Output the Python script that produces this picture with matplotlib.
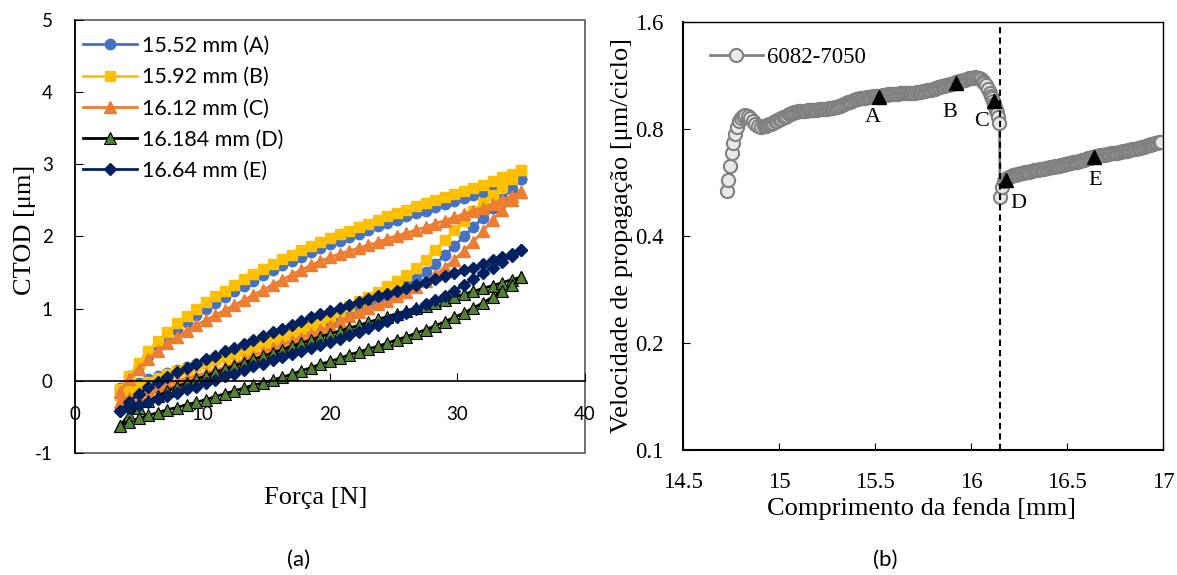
import matplotlib.pyplot as plt
from matplotlib.patches import Rectangle
from matplotlib.ticker import NullLocator

serif = 'Liberation Serif'
sans = 'Lato'
plt.rcParams['font.family'] = [serif, 'DejaVu Serif']
plt.rcParams['axes.unicode_minus'] = False

# (a) CTOD loops: force grid shared by all loops (up branch, then back down)
force = [3.5, 4.25, 5.0, 5.75, 6.5, 7.25, 8.0, 8.75, 9.5, 10.25, 11.0,
         11.75, 12.5, 13.25, 14.0, 14.75, 15.5, 16.25, 17.0, 17.75, 18.5, 19.25,
         20.0, 20.75, 21.5, 22.25, 23.0, 23.75, 24.5, 25.25, 26.0, 26.75, 27.5,
         28.25, 29.0, 29.75, 30.5, 31.25, 32.0, 32.75, 33.5, 34.25, 35.0]

ctod_up_A = [-0.10, 0.06, 0.21, 0.35, 0.48, 0.60, 0.71, 0.81, 0.91, 1.00, 1.08,
             1.16, 1.24, 1.32, 1.39, 1.46, 1.53, 1.60, 1.66, 1.72, 1.78, 1.84,
             1.89, 1.94, 1.99, 2.04, 2.09, 2.14, 2.19, 2.23, 2.28, 2.32, 2.36,
             2.41, 2.45, 2.49, 2.53, 2.57, 2.61, 2.65, 2.70, 2.75, 2.80]
ctod_low_A = [-0.15, -0.09, -0.03, 0.02, 0.07, 0.11, 0.15, 0.19, 0.23, 0.27, 0.31,
              0.35, 0.39, 0.43, 0.47, 0.51, 0.55, 0.59, 0.63, 0.67, 0.72, 0.77,
              0.82, 0.88, 0.94, 1.00, 1.06, 1.12, 1.18, 1.25, 1.32, 1.41, 1.51,
              1.62, 1.74, 1.87, 2.00, 2.13, 2.26, 2.39, 2.52, 2.66, 2.80]

ctod_up_B = [-0.12, 0.07, 0.25, 0.41, 0.55, 0.68, 0.80, 0.90, 1.00, 1.09, 1.17,
             1.25, 1.33, 1.41, 1.48, 1.55, 1.62, 1.69, 1.75, 1.81, 1.87, 1.93,
             1.98, 2.03, 2.08, 2.13, 2.18, 2.23, 2.28, 2.33, 2.37, 2.42, 2.46,
             2.51, 2.55, 2.59, 2.63, 2.67, 2.72, 2.77, 2.82, 2.87, 2.92]
ctod_low_B = [-0.20, -0.13, -0.07, -0.01, 0.04, 0.09, 0.13, 0.17, 0.21, 0.25, 0.29,
              0.33, 0.37, 0.41, 0.46, 0.51, 0.55, 0.59, 0.65, 0.70, 0.76, 0.82,
              0.89, 0.96, 1.03, 1.10, 1.16, 1.23, 1.31, 1.38, 1.46, 1.56, 1.68,
              1.81, 1.95, 2.09, 2.22, 2.35, 2.46, 2.57, 2.68, 2.79, 2.92]

ctod_up_C = [-0.15, 0.02, 0.17, 0.30, 0.42, 0.52, 0.61, 0.69, 0.77, 0.84, 0.91,
             0.98, 1.05, 1.12, 1.19, 1.26, 1.33, 1.40, 1.47, 1.54, 1.60, 1.66,
             1.71, 1.76, 1.80, 1.84, 1.88, 1.92, 1.97, 2.01, 2.05, 2.09, 2.13,
             2.18, 2.22, 2.27, 2.31, 2.36, 2.40, 2.45, 2.51, 2.56, 2.62]
ctod_low_C = [-0.30, -0.24, -0.18, -0.13, -0.08, -0.04, 0.00, 0.04, 0.07, 0.11, 0.15,
              0.19, 0.24, 0.29, 0.35, 0.40, 0.45, 0.50, 0.55, 0.60, 0.65, 0.70,
              0.76, 0.83, 0.90, 0.96, 1.01, 1.06, 1.11, 1.17, 1.23, 1.30, 1.38,
              1.47, 1.57, 1.68, 1.80, 1.93, 2.08, 2.23, 2.37, 2.50, 2.62]

ctod_up_D = [-0.62, -0.48, -0.37, -0.28, -0.21, -0.14, -0.08, -0.03, 0.02, 0.07, 0.12,
             0.16, 0.21, 0.25, 0.30, 0.34, 0.39, 0.43, 0.48, 0.52, 0.57, 0.61,
             0.65, 0.69, 0.73, 0.77, 0.81, 0.85, 0.89, 0.93, 0.97, 1.01, 1.04,
             1.08, 1.12, 1.16, 1.20, 1.24, 1.28, 1.32, 1.36, 1.40, 1.44]
ctod_low_D = [-0.62, -0.57, -0.52, -0.48, -0.44, -0.40, -0.37, -0.33, -0.30, -0.26, -0.22,
              -0.18, -0.14, -0.10, -0.06, -0.03, 0.01, 0.05, 0.09, 0.14, 0.18, 0.23,
              0.27, 0.31, 0.36, 0.40, 0.44, 0.48, 0.52, 0.57, 0.61, 0.66, 0.71,
              0.76, 0.82, 0.88, 0.94, 1.01, 1.08, 1.16, 1.24, 1.33, 1.44]

ctod_up_E = [-0.42, -0.29, -0.18, -0.09, -0.02, 0.05, 0.12, 0.18, 0.24, 0.30, 0.35,
             0.41, 0.46, 0.51, 0.57, 0.62, 0.67, 0.72, 0.78, 0.83, 0.88, 0.93,
             0.97, 1.01, 1.05, 1.09, 1.13, 1.17, 1.21, 1.25, 1.29, 1.33, 1.37,
             1.41, 1.45, 1.49, 1.53, 1.57, 1.62, 1.67, 1.71, 1.76, 1.81]
ctod_low_E = [-0.42, -0.38, -0.34, -0.30, -0.25, -0.21, -0.17, -0.12, -0.08, -0.03, 0.01,
              0.06, 0.10, 0.15, 0.20, 0.24, 0.29, 0.33, 0.37, 0.41, 0.45, 0.49,
              0.54, 0.58, 0.63, 0.68, 0.73, 0.78, 0.83, 0.89, 0.94, 1.00, 1.06,
              1.12, 1.18, 1.25, 1.33, 1.41, 1.49, 1.57, 1.65, 1.73, 1.81]

loop_labels = ['15.52 mm (A)', '15.92 mm (B)', '16.12 mm (C)', '16.184 mm (D)', '16.64 mm (E)']

# (b) crack growth rate vs crack length
crack = [14.727, 14.736, 14.745, 14.754, 14.762, 14.771, 14.780, 14.790, 14.800, 14.812,
         14.825, 14.838, 14.850, 14.862, 14.875, 14.890, 14.905,
         14.92, 14.93, 14.94, 14.95, 14.96, 14.97, 14.98, 14.99, 15.00, 15.01,
         15.02, 15.03, 15.04, 15.05, 15.06, 15.07, 15.08, 15.09, 15.10, 15.11,
         15.12, 15.13, 15.14, 15.15, 15.16, 15.17, 15.18, 15.19, 15.20, 15.21,
         15.22, 15.23, 15.24, 15.25, 15.26, 15.27, 15.28, 15.29, 15.30, 15.31,
         15.32, 15.33, 15.34, 15.35, 15.36, 15.37, 15.38, 15.39, 15.40, 15.41,
         15.42, 15.43, 15.44, 15.45, 15.46, 15.47, 15.48, 15.49, 15.50, 15.51,
         15.52, 15.53, 15.54, 15.55, 15.56, 15.57, 15.58, 15.59, 15.60, 15.61,
         15.62, 15.63, 15.64, 15.65, 15.66, 15.67, 15.68, 15.69, 15.70, 15.71,
         15.72, 15.73, 15.74, 15.75, 15.76, 15.77, 15.78, 15.79, 15.80, 15.81,
         15.82, 15.83, 15.84, 15.85, 15.86, 15.87, 15.88, 15.89, 15.90, 15.91,
         15.92, 15.93, 15.94, 15.95, 15.96, 15.97, 15.98, 15.99, 16.00, 16.01,
         16.02, 16.03, 16.04, 16.05, 16.06, 16.07, 16.08, 16.09, 16.10,
         16.105, 16.11, 16.115, 16.12, 16.125, 16.13, 16.135, 16.14, 16.148,
         16.152, 16.160, 16.170, 16.18, 16.19, 16.20,
         16.21, 16.22, 16.23, 16.24, 16.25, 16.26, 16.27, 16.28, 16.29, 16.30,
         16.31, 16.32, 16.33, 16.34, 16.35, 16.36, 16.37, 16.38, 16.39, 16.40,
         16.41, 16.42, 16.43, 16.44, 16.45, 16.46, 16.47, 16.48, 16.49, 16.50,
         16.51, 16.52, 16.53, 16.54, 16.55, 16.56, 16.57, 16.58, 16.59, 16.60,
         16.61, 16.62, 16.63, 16.64, 16.65, 16.66, 16.67, 16.68, 16.69, 16.70,
         16.71, 16.72, 16.73, 16.74, 16.75, 16.76, 16.77, 16.78, 16.79, 16.80,
         16.81, 16.82, 16.83, 16.84, 16.85, 16.86, 16.87, 16.88, 16.89, 16.90,
         16.91, 16.92, 16.93, 16.94, 16.95, 16.96, 16.97, 16.98, 16.99]
speed = [0.537, 0.575, 0.630, 0.683, 0.732, 0.773, 0.812, 0.840, 0.860, 0.872,
         0.876, 0.870, 0.858, 0.843, 0.829, 0.818, 0.812,
         0.814, 0.817, 0.820, 0.824, 0.829, 0.834, 0.840, 0.845, 0.851, 0.856,
         0.862, 0.867, 0.873, 0.879, 0.884, 0.888, 0.892, 0.895, 0.897, 0.898,
         0.899, 0.900, 0.901, 0.902, 0.903, 0.904, 0.905, 0.906, 0.907, 0.908,
         0.909, 0.910, 0.912, 0.913, 0.914, 0.915, 0.917, 0.920, 0.923, 0.927,
         0.931, 0.936, 0.941, 0.946, 0.951, 0.956, 0.961, 0.965, 0.969, 0.972,
         0.975, 0.977, 0.979, 0.981, 0.983, 0.985, 0.986, 0.988, 0.989, 0.990,
         0.992, 0.994, 0.996, 0.998, 1.000, 1.002, 1.003, 1.004, 1.005, 1.006,
         1.006, 1.007, 1.007, 1.008, 1.008, 1.009, 1.010, 1.011, 1.012, 1.013,
         1.015, 1.017, 1.019, 1.021, 1.024, 1.027, 1.030, 1.033, 1.036, 1.040,
         1.043, 1.047, 1.050, 1.054, 1.058, 1.062, 1.066, 1.070, 1.074, 1.078,
         1.082, 1.086, 1.090, 1.094, 1.098, 1.102, 1.106, 1.110, 1.113, 1.116,
         1.117, 1.116, 1.113, 1.105, 1.094, 1.080, 1.062, 1.038, 1.010,
         0.992, 0.975, 0.958, 0.940, 0.922, 0.905, 0.885, 0.865, 0.830,
         0.516, 0.548, 0.570, 0.578, 0.584, 0.588,
         0.590, 0.592, 0.594, 0.596, 0.598, 0.600, 0.602, 0.604, 0.606, 0.607,
         0.609, 0.610, 0.612, 0.613, 0.615, 0.616, 0.618, 0.619, 0.621, 0.622,
         0.624, 0.625, 0.627, 0.628, 0.630, 0.631, 0.633, 0.634, 0.636, 0.638,
         0.640, 0.642, 0.644, 0.646, 0.648, 0.650, 0.652, 0.654, 0.656, 0.658,
         0.661, 0.663, 0.666, 0.668, 0.670, 0.672, 0.674, 0.675, 0.677, 0.678,
         0.680, 0.681, 0.683, 0.684, 0.686, 0.687, 0.689, 0.690, 0.692, 0.693,
         0.695, 0.697, 0.699, 0.701, 0.703, 0.705, 0.707, 0.709, 0.712, 0.714,
         0.717, 0.719, 0.722, 0.724, 0.727, 0.729, 0.732, 0.734, 0.737]

pt_names = ['A', 'B', 'C', 'D', 'E']
pt_crack = [15.52, 15.92, 16.12, 16.184, 16.64]
pt_speed = [0.985, 1.075, 0.96, 0.575, 0.668]
cut_crack = 16.15

fig = plt.figure(figsize=(11.77, 5.75), dpi=100)

# ---- (a)
ax1 = fig.add_axes([0.0637, 0.2122, 0.4333, 0.7530])
ups = [ctod_up_A, ctod_up_B, ctod_up_C, ctod_up_D, ctod_up_E]
lows = [ctod_low_A, ctod_low_B, ctod_low_C, ctod_low_D, ctod_low_E]
styles = [dict(color='#4472C4', marker='o', mfc='#4472C4', mec='#4472C4', ms=7.5),
          dict(color='#FFC000', marker='s', mfc='#FFC000', mec='#FFC000', ms=7.0),
          dict(color='#ED7D31', marker='^', mfc='#ED7D31', mec='#ED7D31', ms=8.0),
          dict(color='black', marker='^', mfc='#548235', mec='black', ms=8.0, mew=0.8),
          dict(color='#002060', marker='D', mfc='#002060', mec='#002060', ms=6.5)]
for up, low, lab, st in zip(ups, lows, loop_labels, styles):
    ax1.plot(force + force[::-1], up + low[::-1], lw=2, label=lab, **st)

ax1.set_xlim(0, 40)
ax1.set_ylim(-1, 5)
ax1.spines['bottom'].set_position(('data', 0))
ax1.spines['top'].set_visible(False)
ax1.spines['right'].set_visible(False)
ax1.spines['left'].set_linewidth(1.2)
ax1.spines['bottom'].set_linewidth(1.2)
ax1.add_patch(Rectangle((0, 0), 1, 1, transform=ax1.transAxes, fill=False,
                        ec='#595959', lw=1.2, clip_on=False, zorder=0.5))
ax1.set_xticks([0, 10, 20, 30, 40])
ax1.set_yticks([-1, 0, 1, 2, 3, 4, 5])
ax1.tick_params(axis='x', direction='in', length=6, pad=18, labelsize=13.5,
                labelfontfamily=sans)
ax1.tick_params(axis='y', direction='in', length=6, pad=16, labelsize=13.5,
                labelfontfamily=sans)
ax1.set_xlabel('Força [N]', fontsize=19)
ax1.xaxis.set_label_coords(0.4716, -0.104)
ax1.xaxis.label.set_va('center')
ax1.set_ylabel('CTOD [μm]', fontsize=19)
ax1.yaxis.set_label_coords(-0.098, 0.515)
ax1.yaxis.label.set_va('center')
ax1.legend(loc='upper left', bbox_to_anchor=(0.0157, 0.963), frameon=False,
           prop={'family': sans, 'size': 15.5}, handlelength=2.5,
           handletextpad=0.25, labelspacing=0.52, borderaxespad=0, borderpad=0)

# ---- (b)
ax2 = fig.add_axes([0.5803, 0.2174, 0.4078, 0.7443])
ax2.plot(crack, speed, color='#808080', lw=2, marker='o', ms=9.5, mfc='#E8E8E8',
         mec='#808080', mew=1.5, label='6082-7050')
ax2.plot(pt_crack, pt_speed, ls='none', marker='^', ms=10, color='black')
offsets = [(-4, -15), (-4, -21), (-9, -15), (9, -17), (1, -17)]
for name, x, y, off in zip(pt_names, pt_crack, pt_speed, offsets):
    ax2.annotate(name, (x, y), xytext=off, textcoords='offset points',
                 ha='center', va='center', fontsize=16)
ax2.axvline(cut_crack, color='black', ls=(0, (3, 2)), lw=1.5)

ax2.set_yscale('log')
ax2.set_ylim(0.1, 1.6)
ax2.yaxis.set_minor_locator(NullLocator())
ax2.set_yticks([0.1, 0.2, 0.4, 0.8, 1.6])
ax2.set_yticklabels(['0.1', '0.2', '0.4', '0.8', '1.6'])
ax2.set_xlim(14.5, 17)
ax2.set_xticks([14.5, 15, 15.5, 16, 16.5, 17])
ax2.set_xticklabels(['14.5', '15', '15.5', '16', '16.5', '17'])
ax2.tick_params(direction='in', length=5, labelsize=16.5, labelfontfamily=serif)
ax2.tick_params(axis='x', pad=16)
ax2.tick_params(axis='y', pad=14)
for s in ['left', 'bottom']:
    ax2.spines[s].set_linewidth(1.5)
for s in ['top', 'right']:
    ax2.spines[s].set_linewidth(1.0)
ax2.set_xlabel('Comprimento da fenda [mm]', fontsize=19)
ax2.xaxis.set_label_coords(0.496, -0.136)
ax2.xaxis.label.set_va('center')
ax2.set_ylabel('Velocidade de propagação [μm/ciclo]', fontsize=19)
ax2.yaxis.set_label_coords(-0.127, 0.502)
ax2.yaxis.label.set_va('center')
ax2.legend(loc='upper left', bbox_to_anchor=(0.056, 0.942), frameon=False,
           prop={'family': serif, 'size': 16.5}, handlelength=2.3,
           handletextpad=0.2, borderaxespad=0, borderpad=0)

fig.text(299 / 1177, 1 - 560 / 575, '(a)', ha='center', va='center',
         fontsize=16, family=sans)
fig.text(885 / 1177, 1 - 560 / 575, '(b)', ha='center', va='center',
         fontsize=16, family=sans)

fig.savefig('out.png', dpi=100)
